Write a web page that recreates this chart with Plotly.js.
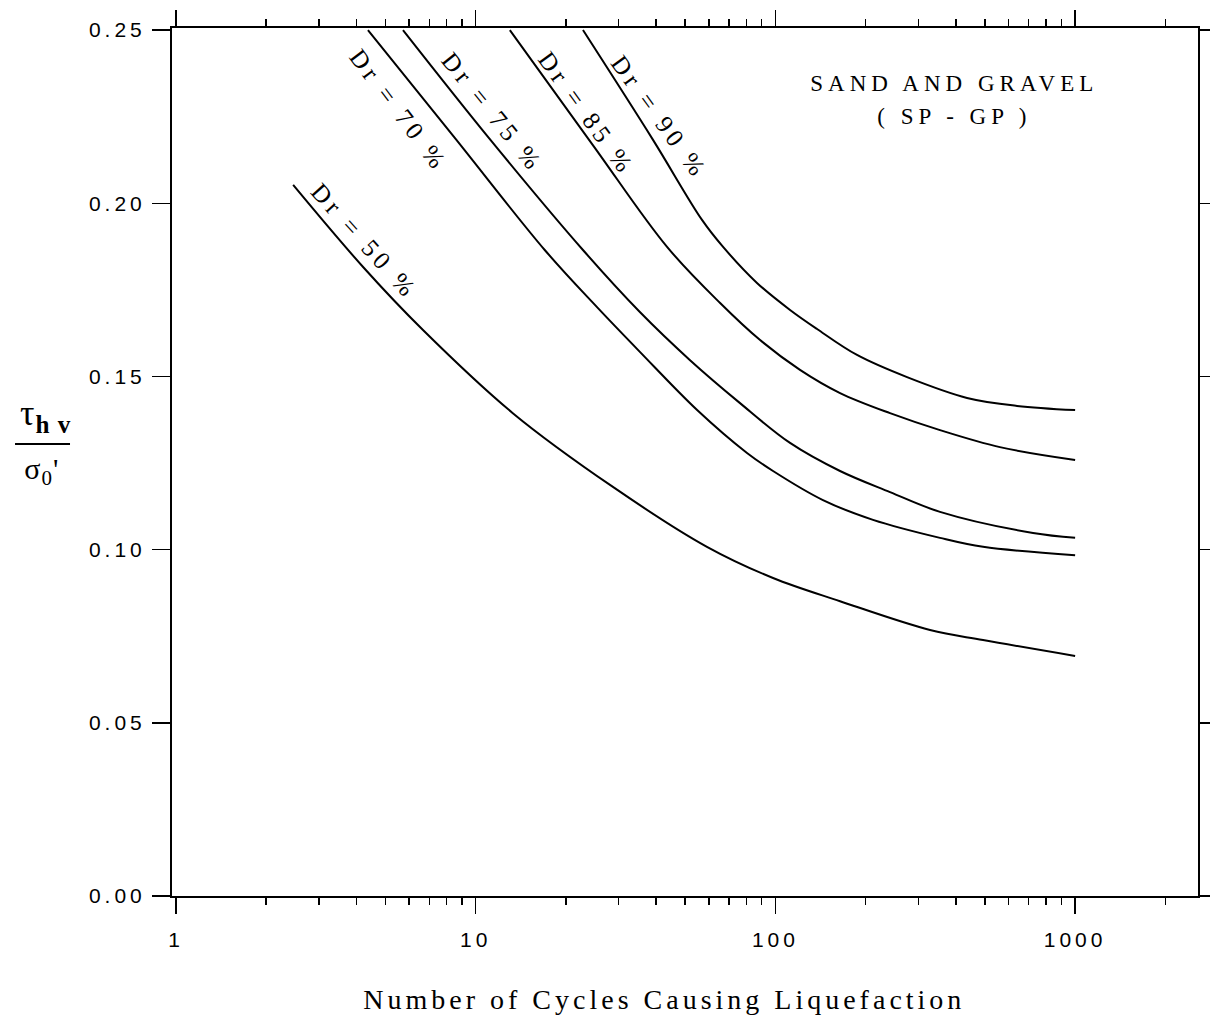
<!DOCTYPE html>
<html>
<head>
<meta charset="utf-8">
<script src="https://cdn.plot.ly/plotly-3.0.1.min.js"></script>
<style>
html,body{margin:0;padding:0;background:#fff;}
.xtick text, .ytick text { letter-spacing: 4px; }
.annotation-text { letter-spacing: 4.5px; }
.annotation[data-index="7"] .annotation-text,
.annotation[data-index="8"] .annotation-text { letter-spacing: 1px; }
.annotation[data-index="5"] .annotation-text,
.annotation[data-index="6"] .annotation-text { letter-spacing: 5px; }
.annotation[data-index="9"] .annotation-text { letter-spacing: 4px; }
</style>
</head>
<body>
<div id="chart" style="width:1210px;height:1032px;"></div>
<script>
// ---- data ----
const dr50_x = [2.46, 4.21, 6.67, 13.3, 28.7, 59.1, 98.2, 164.3, 328, 493, 1000];
const dr50_y = [0.2053, 0.1816, 0.1634, 0.1394, 0.1181, 0.1008, 0.0918, 0.0851, 0.0768, 0.0739, 0.0693];

const dr70_x = [4.37, 8.53, 17.0, 25.4, 35.3, 54.8, 80.4, 98.2, 144.1, 211.7, 354.1, 493, 1000];
const dr70_y = [0.2500, 0.2188, 0.1865, 0.1700, 0.1571, 0.1403, 0.1279, 0.1227, 0.1143, 0.1086, 0.1034, 0.1008, 0.0984];

const dr75_x = [5.72, 11.2, 22.8, 35.3, 51.9, 76.2, 111.9, 164.3, 241.2, 354.1, 724, 1000];
const dr75_y = [0.2500, 0.2183, 0.1865, 0.1686, 0.1547, 0.1423, 0.1308, 0.1227, 0.1166, 0.1109, 0.1048, 0.1034];

const dr85_x = [13.0, 24.6, 43.5, 65.4, 88.9, 120.8, 164.3, 241.2, 354.1, 561, 1000];
const dr85_y = [0.2500, 0.2168, 0.1874, 0.1712, 0.1605, 0.1519, 0.1452, 0.1394, 0.1345, 0.1296, 0.1259];

const dr90_x = [22.8, 39.05, 56.9, 66.9, 86.8, 111.9, 137.7, 187.2, 274.9, 435.8, 640, 1000];
const dr90_y = [0.2500, 0.2183, 0.1952, 0.1874, 0.1770, 0.1692, 0.1637, 0.1562, 0.1498, 0.1438, 0.1415, 0.1403];

const curveNames = ["Dr = 50 %", "Dr = 70 %", "Dr = 75 %", "Dr = 85 %", "Dr = 90 %"];
const labelX = [4.27, 5.55, 11.42, 23.5, 41.2];
const labelY = [0.1891, 0.2268, 0.2263, 0.2260, 0.2249];
const labelAngle = [48, 53, 51, 54, 54];

const xTickVals = [1, 10, 100, 1000];
const xTickText = ["1", "10", "100", "1000"];
const xMinorVals = [2,3,4,5,6,7,8,9,20,30,40,50,60,70,80,90,200,300,400,500,600,700,800,900,2000];
const yTickVals = [0, 0.05, 0.10, 0.15, 0.20, 0.25];
const yTickText = ["0.00", "0.05", "0.10", "0.15", "0.20", "0.25"];

const xTitle = "Number of Cycles Causing Liquefaction";
const boxLine1 = "SAND AND GRAVEL";
const boxLine2 = "( SP - GP )";

// ---- build ----
const xs = [dr50_x, dr70_x, dr75_x, dr85_x, dr90_x];
const ys = [dr50_y, dr70_y, dr75_y, dr85_y, dr90_y];
const traces = xs.map((x, i) => ({
  x: x, y: ys[i], name: curveNames[i], type: 'scatter', mode: 'lines',
  line: {color: '#000', width: 2, shape: 'spline', smoothing: 1.0},
  hoverinfo: 'skip'
}));

const serif = 'Liberation Serif, Times New Roman, serif';
const sans = 'Liberation Sans, Arial, sans-serif';

const annotations = curveNames.map((t, i) => ({
  x: Math.log10(labelX[i]), y: labelY[i], xref: 'x', yref: 'y',
  text: t, showarrow: false, textangle: labelAngle[i],
  font: {family: serif, size: 25, color: '#000'},
  xanchor: 'center', yanchor: 'middle'
}));
annotations.push({
  x: 0.763, y: 0.9366, xref: 'paper', yref: 'paper', text: boxLine1, showarrow: false,
  font: {family: serif, size: 23, color: '#000'}, xanchor: 'center', yanchor: 'middle'
});
annotations.push({
  x: 0.763, y: 0.8975, xref: 'paper', yref: 'paper', text: boxLine2, showarrow: false,
  font: {family: serif, size: 23, color: '#000'}, xanchor: 'center', yanchor: 'middle'
});
annotations.push({
  x: -0.123, y: 0.553, xref: 'paper', yref: 'paper', text: 'τ<sub><b>h v</b></sub>', showarrow: false,
  font: {family: serif, size: 36, color: '#000'}, xanchor: 'center', yanchor: 'middle'
});
annotations.push({
  x: -0.127, y: 0.490, xref: 'paper', yref: 'paper', text: "σ<sub>0</sub>'", showarrow: false,
  font: {family: serif, size: 30, color: '#000'}, xanchor: 'center', yanchor: 'middle'
});
annotations.push({
  x: 0.4805, y: -0.1198, xref: 'paper', yref: 'paper', text: xTitle, showarrow: false,
  font: {family: serif, size: 28, color: '#000'}, xanchor: 'center', yanchor: 'middle'
});

const layout = {
  width: 1210, height: 1032,
  margin: {l: 172, r: 12, t: 28, b: 136},
  paper_bgcolor: '#fff', plot_bgcolor: '#fff',
  showlegend: false,
  xaxis: {
    type: 'log', range: [-0.0133, 3.410],
    tickmode: 'array', tickvals: xTickVals, ticktext: xTickText,
    ticks: 'outside', ticklen: 16, tickwidth: 1.5, tickcolor: '#000',
    minor: {tickmode: 'array', tickvals: xMinorVals, ticks: 'outside', ticklen: 7, tickwidth: 1.5, tickcolor: '#000', showgrid: false},
    showline: true, linewidth: 2, linecolor: '#000', mirror: 'ticks',
    showgrid: false, zeroline: false,
    tickfont: {family: sans, size: 21, color: '#000'},
    ticklabelstandoff: 8
  },
  yaxis: {
    range: [0, 0.2506],
    tickmode: 'array', tickvals: yTickVals, ticktext: yTickText,
    ticks: 'outside', ticklen: 18, tickwidth: 1.5, tickcolor: '#000',
    showline: true, linewidth: 2, linecolor: '#000', mirror: 'ticks',
    showgrid: false, zeroline: false,
    tickfont: {family: sans, size: 21, color: '#000'},
    ticklabelstandoff: 2
  },
  shapes: [{
    type: 'line', xref: 'paper', yref: 'paper',
    x0: -0.153, x1: -0.0994, y0: 0.5207, y1: 0.5207,
    line: {color: '#000', width: 2}
  }],
  annotations: annotations
};

Plotly.newPlot('chart', traces, layout, {displayModeBar: false, staticPlot: true});
</script>
</body>
</html>
